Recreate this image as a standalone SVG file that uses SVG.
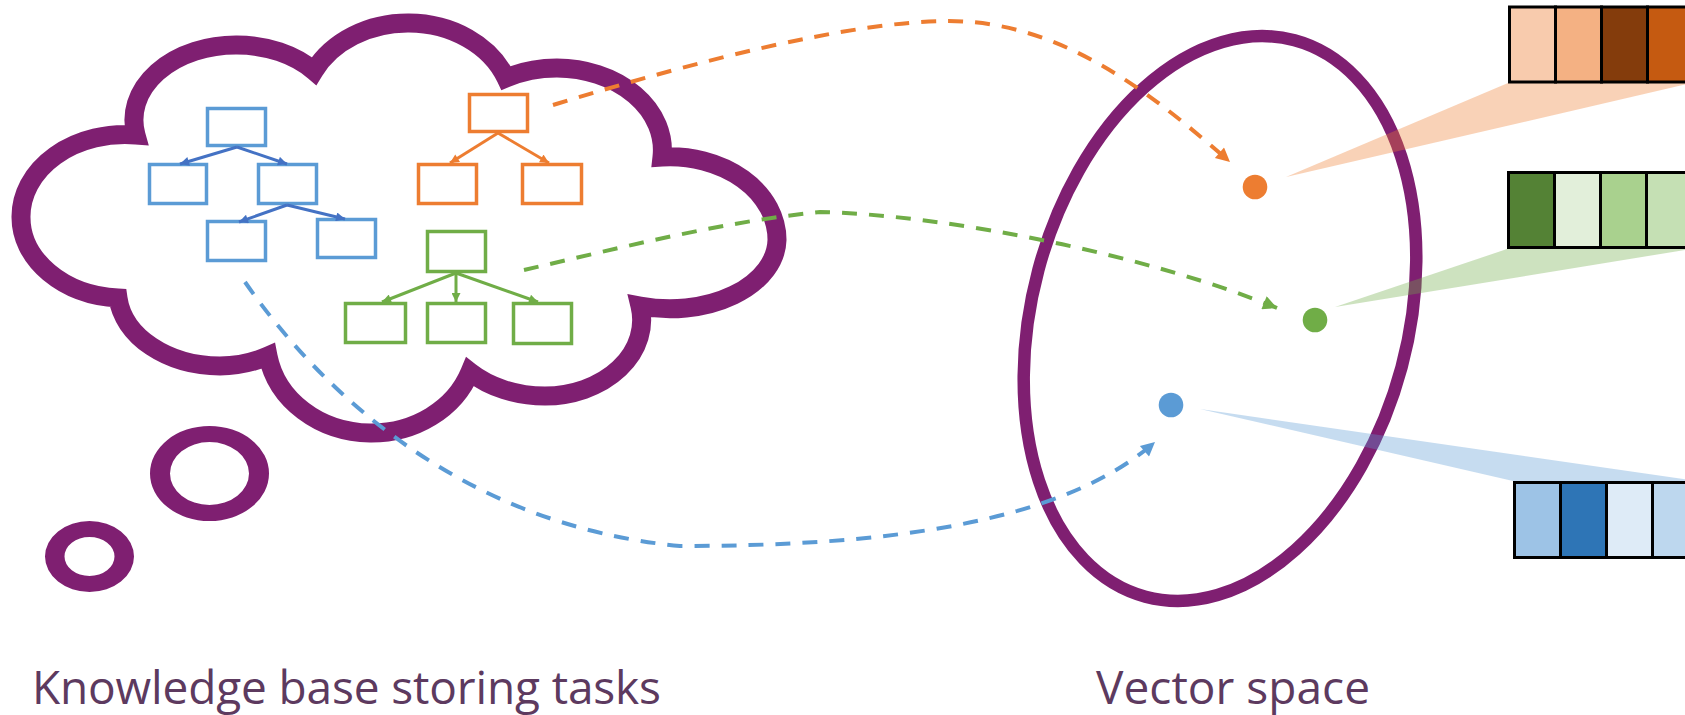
<svg xmlns="http://www.w3.org/2000/svg" width="1685" height="715" viewBox="0 0 1685 715">
  <defs>
    <style>
      .outline{fill:#fff;stroke:#7F1F71;stroke-width:19;stroke-linejoin:miter;stroke-miterlimit:10}
      .ring{fill:#7F1F71;fill-rule:evenodd}
      .box{fill:#fff;stroke-width:3.5}
      .blue{stroke:#5B9BD5}
      .orange{stroke:#ED7D31}
      .green{stroke:#70AD47}
      .edge{fill:none;stroke-width:3}
      .dash{fill:none;stroke-width:4;stroke-dasharray:15 12}
      .cell{stroke:#000;stroke-width:3}
      .label{font-family:"Open Sans","Liberation Sans",sans-serif;font-size:46px;fill:#5D3A5F}
    </style>
    <marker id="tipBlue" viewBox="0 0 10 10" refX="10" refY="5" markerWidth="10" markerHeight="9" markerUnits="userSpaceOnUse" orient="auto"><path d="M0,0 L10,5 L0,10 z" fill="#4472C4"/></marker>
    <marker id="tipOrange" viewBox="0 0 10 10" refX="10" refY="5" markerWidth="10" markerHeight="9" markerUnits="userSpaceOnUse" orient="auto"><path d="M0,0 L10,5 L0,10 z" fill="#ED7D31"/></marker>
    <marker id="tipGreen" viewBox="0 0 10 10" refX="10" refY="5" markerWidth="10" markerHeight="9" markerUnits="userSpaceOnUse" orient="auto"><path d="M0,0 L10,5 L0,10 z" fill="#70AD47"/></marker>
    <marker id="headOrange" viewBox="0 0 10 10" refX="10" refY="5" markerWidth="16" markerHeight="14" markerUnits="userSpaceOnUse" orient="auto"><path d="M0,0 L10,5 L0,10 z" fill="#ED7D31"/></marker>
    <marker id="headGreen" viewBox="0 0 10 10" refX="10" refY="5" markerWidth="16" markerHeight="14" markerUnits="userSpaceOnUse" orient="auto"><path d="M0,0 L10,5 L0,10 z" fill="#70AD47"/></marker>
    <marker id="headBlue" viewBox="0 0 10 10" refX="10" refY="5" markerWidth="16" markerHeight="14" markerUnits="userSpaceOnUse" orient="auto"><path d="M0,0 L10,5 L0,10 z" fill="#5B9BD5"/></marker>
  </defs>

  <rect width="1685" height="715" fill="#fff"/>

  <!-- thought cloud -->
  <g id="cloud">
    <path class="outline" d="M118,298 A104,81 0 0 1 21,217 A104,82 0 0 1 136,135 A102,75 0 0 1 237,45 A102,75 0 0 1 314,71 A105,87 0 0 1 409,23 A105,87 0 0 1 506,78 A106,82 0 0 1 557,68 A106,82 0 0 1 662,157 A107,83 0 0 1 777,240 A107,70 0 0 1 640,306 A97,76 0 0 1 545,396 A103,76 0 0 1 470,372 A105,93 0 0 1 370,433 A105,93 0 0 1 268,356 A100,76 0 0 1 220,366 A103,76 0 0 1 118,298 Z"/>
  </g>
  <g id="bubble-medium">
    <path class="ring" d="M150,473.5 a59.5,47.5 0 1,0 119,0 a59.5,47.5 0 1,0 -119,0 Z M170,473.5 a39.5,31.5 0 1,0 79,0 a39.5,31.5 0 1,0 -79,0 Z"/>
  </g>
  <g id="bubble-small">
    <path class="ring" d="M45,556.5 a44.5,35.5 0 1,0 89,0 a44.5,35.5 0 1,0 -89,0 Z M64.5,556.5 a25,19.5 0 1,0 50,0 a25,19.5 0 1,0 -50,0 Z"/>
  </g>

  <!-- vector space -->
  <g id="vector-space">
    <ellipse cx="1220" cy="318.5" rx="188" ry="288" transform="rotate(15 1220 318.5)" fill="none" stroke="#7F1F71" stroke-width="12.5"/>
  </g>

  <!-- projection wedges -->
  <g id="wedges">
    <polygon points="1286,177 1508,83 1692,83" fill="#ED7D31" fill-opacity="0.35"/>
    <polygon points="1335,307 1507,249 1691,249" fill="#70AD47" fill-opacity="0.35"/>
    <polygon points="1200,409 1513,481 1697,481" fill="#5B9BD5" fill-opacity="0.35"/>
  </g>

  <!-- embedding vectors -->
  <g id="vector-orange" class="cell">
    <rect x="1509.5" y="7" width="46" height="75" fill="#F8CBAD"/>
    <rect x="1555.5" y="7" width="46" height="75" fill="#F4B183"/>
    <rect x="1601.5" y="7" width="46" height="75" fill="#843C0C"/>
    <rect x="1647.5" y="7" width="46" height="75" fill="#C55A11"/>
  </g>
  <g id="vector-green" class="cell">
    <rect x="1508.5" y="172.5" width="46" height="75" fill="#548235"/>
    <rect x="1554.5" y="172.5" width="46" height="75" fill="#E2EFDA"/>
    <rect x="1600.5" y="172.5" width="46" height="75" fill="#A9D18E"/>
    <rect x="1646.5" y="172.5" width="46" height="75" fill="#C5E0B4"/>
  </g>
  <g id="vector-blue" class="cell">
    <rect x="1514.5" y="482.5" width="46" height="75" fill="#9DC3E6"/>
    <rect x="1560.5" y="482.5" width="46" height="75" fill="#2E75B6"/>
    <rect x="1606.5" y="482.5" width="46" height="75" fill="#DEEBF7"/>
    <rect x="1652.5" y="482.5" width="46" height="75" fill="#BDD7EE"/>
  </g>

  <!-- points in vector space -->
  <g id="point-orange"><circle cx="1255" cy="187" r="12.3" fill="#ED7D31"/></g>
  <g id="point-green"><circle cx="1315" cy="320" r="12.3" fill="#70AD47"/></g>
  <g id="point-blue"><circle cx="1171" cy="405" r="12.3" fill="#5B9BD5"/></g>

  <!-- blue task tree -->
  <g id="blue-root"><rect class="box blue" x="207.5" y="108.5" width="58" height="37"/></g>
  <g id="blue-left"><rect class="box blue" x="149.5" y="164.5" width="57" height="39"/></g>
  <g id="blue-right"><rect class="box blue" x="258.5" y="164.5" width="58" height="39"/></g>
  <g id="blue-right-left"><rect class="box blue" x="207.5" y="221.5" width="58" height="39"/></g>
  <g id="blue-right-right"><rect class="box blue" x="317.5" y="219.5" width="58" height="38"/></g>

  <!-- orange task tree -->
  <g id="orange-root"><rect class="box orange" x="469.5" y="94.5" width="58" height="37"/></g>
  <g id="orange-left"><rect class="box orange" x="418.5" y="164.5" width="58" height="39"/></g>
  <g id="orange-right"><rect class="box orange" x="522.5" y="164.5" width="59" height="39"/></g>

  <!-- green task tree -->
  <g id="green-root"><rect class="box green" x="427.5" y="231.5" width="58" height="40"/></g>
  <g id="green-left"><rect class="box green" x="345.5" y="303.5" width="60" height="39"/></g>
  <g id="green-mid"><rect class="box green" x="427.5" y="303.5" width="58" height="39"/></g>
  <g id="green-right"><rect class="box green" x="513.5" y="303.5" width="58" height="40"/></g>

  <!-- connectors -->
  <g id="connectors">
    <g stroke="#4472C4" class="edge">
      <path d="M237,147 L180,164" marker-end="url(#tipBlue)"/>
      <path d="M237,147 L287,164" marker-end="url(#tipBlue)"/>
      <path d="M287,205 L239,222" marker-end="url(#tipBlue)"/>
      <path d="M287,205 L345,219" marker-end="url(#tipBlue)"/>
    </g>
    <g stroke="#ED7D31" class="edge">
      <path d="M498,133 L450,163" marker-end="url(#tipOrange)"/>
      <path d="M498,133 L549,163" marker-end="url(#tipOrange)"/>
    </g>
    <g stroke="#70AD47" class="edge">
      <path d="M456,273 L382,302" marker-end="url(#tipGreen)"/>
      <path d="M456,273 L456,302" marker-end="url(#tipGreen)"/>
      <path d="M456,273 L538,302" marker-end="url(#tipGreen)"/>
    </g>
    <path class="dash" stroke="#ED7D31" d="M553,105 C700,60 850,22 946,21 C1060,20 1150,92 1230,162" marker-end="url(#headOrange)"/>
    <path class="dash" stroke="#70AD47" d="M524,270 C620,248 720,222 820,212 C950,215 1150,256 1277,308" marker-end="url(#headGreen)"/>
    <path class="dash" stroke="#5B9BD5" d="M245,282 C320,390 460,525 680,546 C880,546 1060,525 1155,442" marker-end="url(#headBlue)"/>
  </g>

  <!-- captions -->
  <text class="label" x="32" y="704" textLength="629">Knowledge base storing tasks</text>
  <text class="label" x="1096" y="704" textLength="274">Vector space</text>
</svg>
